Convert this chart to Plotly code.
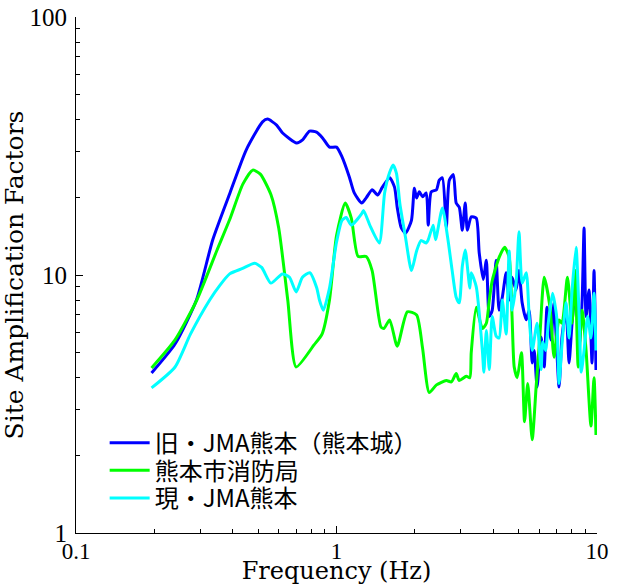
import plotly.graph_objects as go

# Series 1: 旧・JMA熊本（熊本城）
f_old = [0.195, 0.24, 0.29, 0.335, 0.39, 0.45, 0.52, 0.544, 0.589, 0.621, 0.703, 0.741, 0.788, 0.838,
         0.884, 0.94, 1.0, 1.05, 1.12, 1.17, 1.25, 1.30, 1.37, 1.44, 1.50, 1.60, 1.67, 1.71, 1.77, 1.84,
         1.94, 1.99, 2.03, 2.08, 2.14, 2.21, 2.25, 2.31, 2.42, 2.48, 2.55, 2.64, 2.71, 2.81, 2.88, 2.96,
         3.04, 3.12, 3.18, 3.29, 3.44, 3.53, 3.66, 3.76, 3.86, 3.96, 4.10, 4.21, 4.33, 4.48, 4.60, 4.72,
         4.89, 5.02, 5.16, 5.35, 5.49, 5.64, 5.74, 5.89, 6.10, 6.27, 6.43, 6.66, 6.84, 7.15, 7.34, 7.61,
         7.81, 8.02, 8.31, 8.54, 8.77, 8.92, 9.08, 9.32, 9.57, 9.74, 9.91]
a_old = [4.17, 5.4, 8.0, 13.7, 20.8, 30.5, 39.2, 40.2, 38.1, 35.5, 32.5, 33.4, 36.1, 35.8,
         34.0, 31.3, 31.3, 28.7, 24.0, 20.8, 19.0, 19.9, 21.4, 20.4, 21.9, 23.8, 21.9, 18.3, 15.3, 14.5,
         16.3, 21.7, 19.9, 21.0, 20.1, 20.8, 15.6, 21.0, 21.4, 23.3, 23.8, 15.3, 23.3, 24.5, 19.0, 18.3,
         14.9, 19.0, 14.9, 16.8, 16.6, 12.2, 9.6, 11.4, 6.9, 7.3, 11.4, 7.3, 8.2, 10.2, 8.0, 9.8,
         8.75, 10.4, 7.8, 6.7, 7.3, 4.56, 5.1, 3.68, 5.75, 4.4, 7.5, 5.6, 7.8, 3.68, 5.75, 7.3,
         4.56, 6.5, 9.3, 5.1, 8.0, 15.2, 6.9, 8.75, 4.56, 10.4, 4.28]

# Series 2: 熊本市消防局
f_fire = [0.195, 0.24, 0.291, 0.348, 0.389, 0.437, 0.477, 0.51, 0.56, 0.60, 0.65, 0.70, 0.82, 0.88,
          0.94, 1.0, 1.08, 1.14, 1.21, 1.30, 1.37, 1.48, 1.52, 1.60, 1.71, 1.87, 2.03, 2.14, 2.27,
          2.42, 2.64, 2.76, 2.88, 2.96, 3.15, 3.25, 3.29, 3.44, 3.63, 3.76, 3.86, 3.96, 4.21, 4.42,
          4.60, 4.72, 4.81, 4.94, 5.13, 5.27, 5.42, 5.64, 5.84, 6.03, 6.27, 6.6, 6.84, 7.15, 7.34,
          7.7, 8.02, 8.24, 8.47, 8.77, 9.08, 9.48, 9.74, 9.91]
a_fire = [4.36, 5.6, 8.0, 12.5, 16.4, 22.5, 25.5, 24.6, 20.5, 15.2, 8.0, 4.4, 5.36, 5.9,
          8.0, 14.2, 19.0, 16.6, 11.8, 11.8, 10.4, 6.3, 6.2, 6.7, 5.3, 7.2, 7.0, 5.2, 3.5,
          3.75, 3.9, 3.85, 4.15, 3.9, 4.05, 4.0, 5.0, 7.5, 6.2, 6.5, 8.0, 9.5, 11.7, 12.8,
          11.7, 6.9, 4.4, 4.0, 5.0, 2.7, 3.8, 2.3, 3.7, 5.7, 9.8, 7.5, 4.8, 6.7, 6.5,
          9.8, 6.5, 10.4, 4.4, 7.3, 5.1, 2.6, 4.0, 2.4]

# Series 3: 現・JMA熊本
f_new = [0.195, 0.24, 0.275, 0.326, 0.356, 0.389, 0.436, 0.485, 0.516, 0.56, 0.62, 0.66, 0.70, 0.74,
         0.79, 0.84, 0.86, 0.89, 0.94, 1.0, 1.05, 1.09, 1.14, 1.25, 1.27, 1.35, 1.46, 1.53, 1.60,
         1.65, 1.70, 1.75, 1.84, 1.94, 2.03, 2.11, 2.21, 2.25, 2.35, 2.40, 2.55, 2.67, 2.78, 2.88,
         2.96, 3.04, 3.12, 3.25, 3.29, 3.44, 3.63, 3.68, 3.76, 3.86, 3.96, 4.10, 4.21, 4.33, 4.48,
         4.60, 4.72, 4.89, 5.02, 5.16, 5.35, 5.49, 5.64, 5.89, 6.10, 6.19, 6.35, 6.50, 6.75, 7.0,
         7.15, 7.34, 7.61, 7.81, 8.02, 8.31, 8.54, 8.7, 8.92, 9.2, 9.48, 9.74, 9.91]
a_new = [3.65, 4.4, 5.9, 8.0, 9.1, 10.1, 10.6, 11.1, 10.7, 9.3, 10.1, 9.8, 8.6, 9.8,
         10.2, 8.9, 8.0, 7.3, 8.9, 13.4, 16.3, 16.7, 15.6, 17.3, 17.8, 15.4, 13.3, 20.8, 25.0,
         26.7, 24.7, 19.0, 14.0, 10.4, 12.4, 13.6, 13.3, 13.7, 15.6, 13.7, 18.2, 14.0, 10.4, 8.2,
         7.8, 10.8, 12.5, 8.9, 10.2, 9.0, 5.1, 4.2, 6.1, 4.3, 6.9, 5.8, 5.7, 8.0, 5.9,
         12.4, 7.3, 9.3, 14.7, 9.3, 10.2, 6.9, 5.1, 6.5, 4.3, 5.5, 5.1, 6.5, 8.5, 6.9,
         3.8, 5.4, 7.8, 5.7, 8.7, 12.8, 6.9, 4.2, 5.1, 6.9, 5.7, 8.5, 5.1]

names = ["旧・JMA熊本（熊本城）", "熊本市消防局", "現・JMA熊本"]
colors = ["#0000ff", "#00ff00", "#00ffff"]
legend_ids = ["legend", "legend2", "legend3"]

x_ticks = [0.1, 1, 10]
x_labels = ["0.1", "1", "10"]
y_ticks = [1, 10, 100]
y_labels = ["1", "10", "100"]

fig = go.Figure()
for f, a, n, c, lg in zip([f_old, f_fire, f_new], [a_old, a_fire, a_new], names, colors, legend_ids):
    fig.add_trace(go.Scatter(x=f, y=a, mode="lines", name=n, legend=lg,
                             line=dict(color=c, width=3, shape="spline", smoothing=0.6)))

serif = "Liberation Serif"
title_font = "DejaVu Serif"
leg_font = dict(family="Noto Sans CJK JP", size=24, color="black")
leg_common = dict(x=0.055, xanchor="left", yanchor="middle", bgcolor="rgba(0,0,0,0)",
                  font=leg_font, itemwidth=40)

fig.update_layout(
    width=617, height=585,
    margin=dict(l=76, r=20, t=17, b=52),
    paper_bgcolor="white", plot_bgcolor="white",
    showlegend=True,
    legend=dict(y=0.174, **leg_common),
    legend2=dict(y=0.121, **leg_common),
    legend3=dict(y=0.067, **leg_common),
)
fig.update_xaxes(
    type="log", range=[-1, 1], showgrid=False, zeroline=False, automargin=False,
    showline=True, linecolor="black", linewidth=1,
    ticks="inside", ticklen=7, tickcolor="black",
    tickvals=x_ticks, ticktext=x_labels, ticklabelstandoff=-3,
    tickfont=dict(family=serif, size=23, color="black"),
    minor=dict(ticks="inside", ticklen=4, tickcolor="black", dtick="D1", showgrid=False),
    title=dict(text="Frequency (Hz)", font=dict(family=title_font, size=24, color="black"), standoff=0),
)
fig.update_yaxes(
    type="log", range=[0, 2], showgrid=False, zeroline=False, automargin=False,
    showline=True, linecolor="black", linewidth=1,
    ticks="inside", ticklen=7, tickcolor="black",
    tickvals=y_ticks, ticktext=y_labels, ticklabelstandoff=3,
    tickfont=dict(family=serif, size=25, color="black"),
    minor=dict(ticks="inside", ticklen=4, tickcolor="black", dtick="D1", showgrid=False),
    title=dict(text="Site Amplification Factors", font=dict(family=title_font, size=25, color="black"), standoff=2),
)

fig.write_html("out.html")
